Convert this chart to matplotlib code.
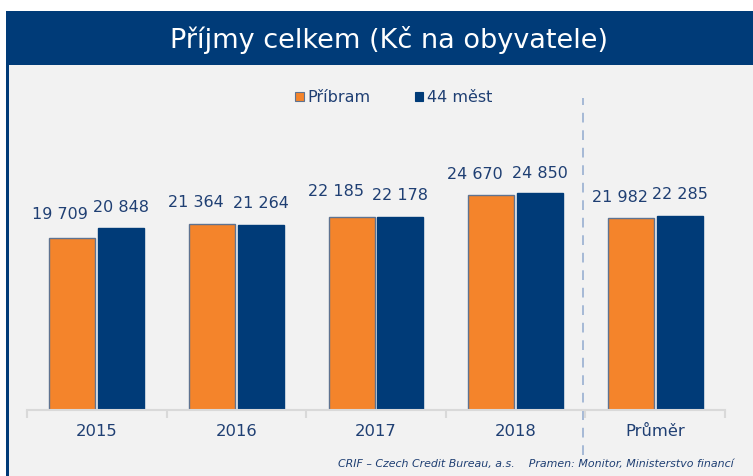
import matplotlib
matplotlib.use("Agg")
import matplotlib.pyplot as plt
from matplotlib.patches import Rectangle
import numpy as np

categories = ["2015", "2016", "2017", "2018", "Průměr"]
pribram = [19709, 21364, 22185, 24670, 21982]
mest44 = [20848, 21264, 22178, 24850, 22285]
series_names = ["Příbram", "44 měst"]
title = "Příjmy celkem (Kč na obyvatele)"
footer = "CRIF – Czech Credit Bureau, a.s.    Pramen: Monitor, Ministerstvo financí"

# label placement (pixels): horizontal shift and height of label centre above bar top
lbl_dx_1 = [-12, -16, -16, -16, -11]
lbl_dy_1 = [24, 21, 25, 20, 21]
lbl_dy_2 = [21, 21, 21, 20, 21]

ORANGE = "#F4842B"
BLUE = "#003B78"
TXT = "#1F3F73"
GRID = "#D9D9D9"

W, H = 753, 476
fig = plt.figure(figsize=(W / 100, H / 100), dpi=100)
fig.patch.set_facecolor("white")

def fx(x): return x / W
def fy(y): return 1 - y / H

# gray chart background
fig.patches.append(Rectangle((fx(8), 0), fx(W - 8), fy(65), transform=fig.transFigure,
                             facecolor="#F2F2F2", edgecolor="none", zorder=-2))
# left border
fig.patches.append(Rectangle((fx(6), 0), fx(2.5), fy(11), transform=fig.transFigure,
                             facecolor=BLUE, edgecolor="none", zorder=-1))
# header band
fig.patches.append(Rectangle((fx(6), fy(65)), fx(W - 6), (65 - 11) / H, transform=fig.transFigure,
                             facecolor=BLUE, edgecolor="none", zorder=-1))
fig.text(fx(389), fy(47.5), title, color="white", fontsize=19.5, ha="center", va="baseline",
         family="DejaVu Sans", zorder=3)

# axes
scale = 0.00872  # px per unit
ax_left, ax_right = 27, 725
ax_bottom, ax_top = 410, 80
ax = fig.add_axes([fx(ax_left), fy(ax_bottom), (ax_right - ax_left) / W, (ax_bottom - ax_top) / H])
ax.set_zorder(2)
ax.set_facecolor("none")
ax.set_xlim(-0.5, len(categories) - 0.5)
ax.set_ylim(0, (ax_bottom - ax_top) / scale)

x = np.arange(len(categories))
bw = 0.33
off = 0.175
b1 = ax.bar(x - off, pribram, bw, color=ORANGE, edgecolor="#5F7391", linewidth=1.0, zorder=2)
b2 = ax.bar(x + off, mest44, bw, color=BLUE, edgecolor=BLUE, linewidth=1.0, zorder=2)

def fmt(v):
    return f"{v:,}".replace(",", " ")

pt = 0.72  # points per pixel at 100 dpi
for rect, v, dx, dy in zip(b1, pribram, lbl_dx_1, lbl_dy_1):
    ax.annotate(fmt(v), (rect.get_x() + rect.get_width() / 2, v), xytext=(dx * pt, dy * pt),
                textcoords="offset points", ha="center", va="center", fontsize=11.5, color=TXT)
for rect, v, dy in zip(b2, mest44, lbl_dy_2):
    ax.annotate(fmt(v), (rect.get_x() + rect.get_width() / 2, v), xytext=(0, dy * pt),
                textcoords="offset points", ha="center", va="center", fontsize=11.5, color=TXT)

for s in ("top", "left", "right"):
    ax.spines[s].set_visible(False)
ax.spines["bottom"].set_color(GRID)
ax.spines["bottom"].set_linewidth(1.5)
ax.set_yticks([])
ax.set_xticks(np.arange(-0.5, len(categories)), labels=[""] * (len(categories) + 1))
ax.tick_params(axis="x", which="major", length=6, width=1.5, color=GRID)
ax.set_xticks(x, labels=categories, minor=True)
ax.tick_params(axis="x", which="minor", length=0, pad=10, labelsize=11.8, labelcolor=TXT)

# dashed divider
ymin = (ax_bottom - 455) / scale
ymax = (ax_bottom - 98) / scale
ax.plot([3.48, 3.48], [ymin, ymax], color="#A5B9D6", lw=1.4, ls=(0, (5, 4)), clip_on=False, zorder=1)

# legend
fig.patches.append(Rectangle((fx(295), fy(101)), fx(8.5), 8.5 / H, transform=fig.transFigure,
                             facecolor=ORANGE, edgecolor="#5F7391", lw=0.8, zorder=3))
fig.text(fx(307), fy(102), series_names[0], fontsize=11.5, color=TXT, va="baseline", ha="left")
fig.patches.append(Rectangle((fx(415), fy(101)), fx(8.5), 8.5 / H, transform=fig.transFigure,
                             facecolor=BLUE, edgecolor=BLUE, lw=0.8, zorder=3))
fig.text(fx(427), fy(102), series_names[1], fontsize=11.5, color=TXT, va="baseline", ha="left")

fig.text(fx(734), fy(467), footer, fontsize=7.9, style="italic", color=TXT, ha="right", va="baseline")

fig.savefig("out.png", dpi=100)
